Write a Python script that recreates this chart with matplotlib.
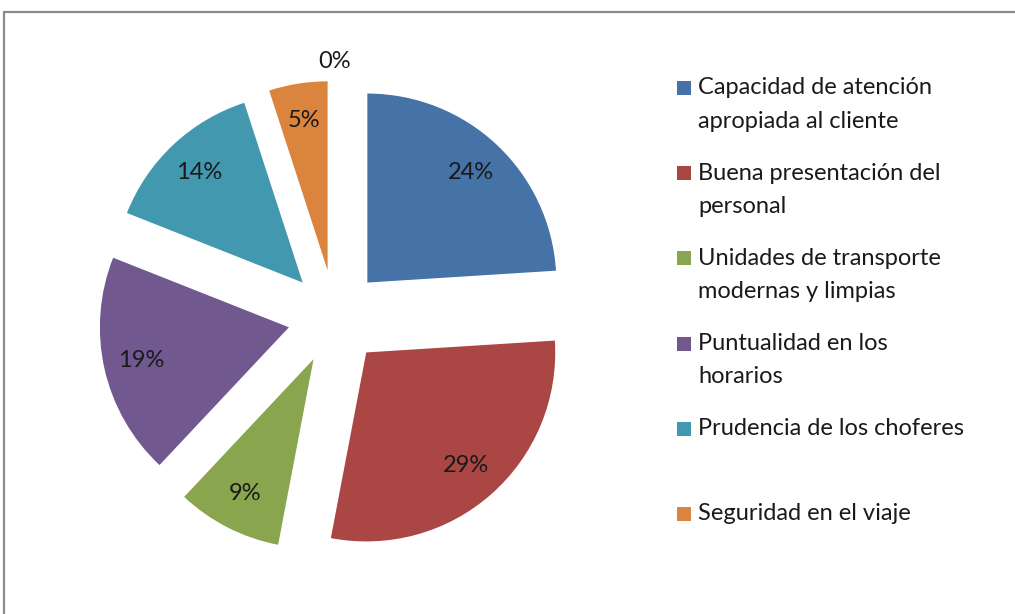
import matplotlib
matplotlib.use("Agg")
import matplotlib.pyplot as plt
from matplotlib.patches import Rectangle

categories = [
    "Capacidad de atención\napropiada al cliente",
    "Buena presentación del\npersonal",
    "Unidades de transporte\nmodernas y limpias",
    "Puntualidad en los\nhorarios",
    "Prudencia de los choferes",
    "Seguridad en el viaje",
]
values = [24, 29, 9, 19, 14, 5]
extra_label = "0%"
colors = ["#4572A7", "#AA4643", "#89A54E", "#71588F", "#4198AF", "#DB843D"]

W, H = 1015, 614
plt.rcParams['font.family'] = ['Lato', 'DejaVu Sans']
fig = plt.figure(figsize=(W / 100, H / 100), dpi=100)

# frame
fig.patches.append(Rectangle((4 / W, -0.05), 1.2, 1.05 - 12 / H,
                             transform=fig.transFigure, fill=False,
                             edgecolor="#8c8c8c", linewidth=1.6))

cx, cy, r = 335, 317, 189
lim = 1.6
ax = fig.add_axes([(cx - lim * r) / W, (H - cy - lim * r) / H,
                   2 * lim * r / W, 2 * lim * r / H])
ax.axis("off")

wedges, texts, autotexts = ax.pie(
    values, colors=colors, startangle=90, counterclock=False,
    explode=[0.25] * len(values), radius=1, center=(0, 0),
    autopct=lambda p: f"{p:.0f}%", pctdistance=0.8,
    textprops=dict(fontsize=17, color="#1a1a1a"), frame=False)
ax.set_xlim(-lim, lim)
ax.set_ylim(-lim, lim)
ax.set_aspect("auto")

ax.text(0, 255 / r, extra_label, ha="center", va="center", fontsize=17, color="#1a1a1a")

# legend
y0 = 88
step = 85.2
line = 33
for i, (lab, col) in enumerate(zip(categories, colors)):
    yc = y0 + i * step
    fig.patches.append(Rectangle((677 / W, 1 - (yc + 7) / H), 14 / W, 14 / H,
                                 transform=fig.transFigure, facecolor=col, edgecolor="none"))
    for j, part in enumerate(lab.split("\n")):
        fig.text(698 / W, 1 - (yc + j * line) / H, part, ha="left", va="center",
                 fontsize=17, color="#1a1a1a")

fig.savefig("out.png", dpi=100)
